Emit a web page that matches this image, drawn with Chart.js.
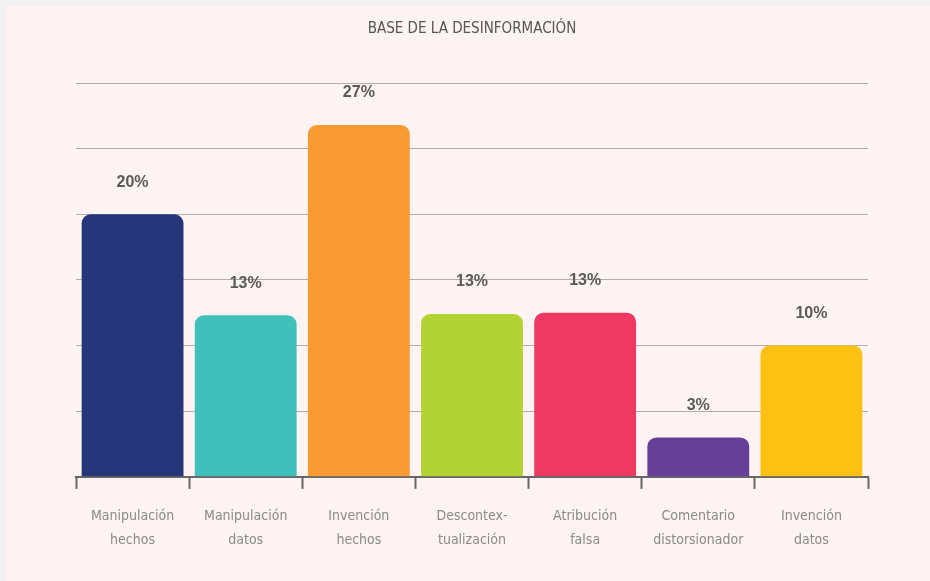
<!DOCTYPE html>
<html>
<head>
<meta charset="utf-8">
<script src="https://cdn.jsdelivr.net/npm/chart.js@4"></script>
<style>
    html, body { margin: 0; padding: 0; background: #f3f2f2; }
    #wrap {
        position: absolute; left: 6px; top: 6px;
        width: 924px; height: 575px;
        background: #fcf3f2;
    }
</style>
</head>
<body>
<div id="wrap"><canvas id="chart" width="924" height="575"></canvas></div>
<script>
// categories (two lines each) and values
const categories = [
    ["Manipulación", "hechos"],
    ["Manipulación", "datos"],
    ["Invención", "hechos"],
    ["Descontex-", "tualización"],
    ["Atribución", "falsa"],
    ["Comentario", "distorsionador"],
    ["Invención", "datos"]
];
const values = [20, 12.3, 26.8, 12.4, 12.5, 3, 10];
const valueLabels = ["20%", "13%", "27%", "13%", "13%", "3%", "10%"];
const barColors = ["#25357a", "#40c0ba", "#f89b33", "#b3d334", "#ee3963", "#663f98", "#fdc113"];

const narrow = "'Liberation Sans Narrow', 'DejaVu Sans Condensed', sans-serif";

// draws the % text above each bar
const valueLabelPlugin = {
    id: "valueLabels",
    afterDatasetsDraw(chart) {
        const ctx = chart.ctx;
        const meta = chart.getDatasetMeta(0);
        ctx.save();
        ctx.font = "bold 16px 'Liberation Sans', Arial, sans-serif";
        ctx.fillStyle = "#5a5a5a";
        ctx.textAlign = "center";
        ctx.textBaseline = "middle";
        meta.data.forEach((bar, i) => {
            ctx.fillText(valueLabels[i], bar.x, bar.y - 32);
        });
        ctx.restore();
    }
};

new Chart(document.getElementById("chart").getContext("2d"), {
    type: "bar",
    data: {
        labels: categories,
        datasets: [{
            data: values,
            backgroundColor: barColors,
            borderRadius: { topLeft: 9, topRight: 9 },
            borderSkipped: "bottom",
            barPercentage: 0.9,
            categoryPercentage: 1.0
        }]
    },
    options: {
        responsive: false,
        animation: false,
        layout: { padding: { left: 70, right: 62, top: 14, bottom: 14 } },
        plugins: {
            legend: { display: false },
            tooltip: { enabled: false },
            title: {
                display: true,
                text: "BASE DE LA DESINFORMACIÓN",
                color: "#555",
                font: { family: narrow, size: 15, weight: "normal" },
                padding: { top: 0, bottom: 45 }
            }
        },
        scales: {
            x: {
                grid: {
                    offset: true,
                    drawOnChartArea: false,
                    drawTicks: true,
                    tickLength: 12,
                    tickColor: "#666",
                    tickWidth: 2
                },
                border: { display: true, color: "#666", width: 2 },
                ticks: {
                    color: "#8a8a8a",
                    padding: 15,
                    font: { family: narrow, size: 14, lineHeight: 1.72 }
                }
            },
            y: {
                min: 0,
                max: 30,
                z: 1,
                ticks: { display: false, stepSize: 5 },
                border: { display: false },
                grid: {
                    color: "rgba(90,90,90,0.45)",
                    lineWidth: 1,
                    drawTicks: false
                }
            }
        }
    },
    plugins: [valueLabelPlugin]
});
</script>
</body>
</html>
